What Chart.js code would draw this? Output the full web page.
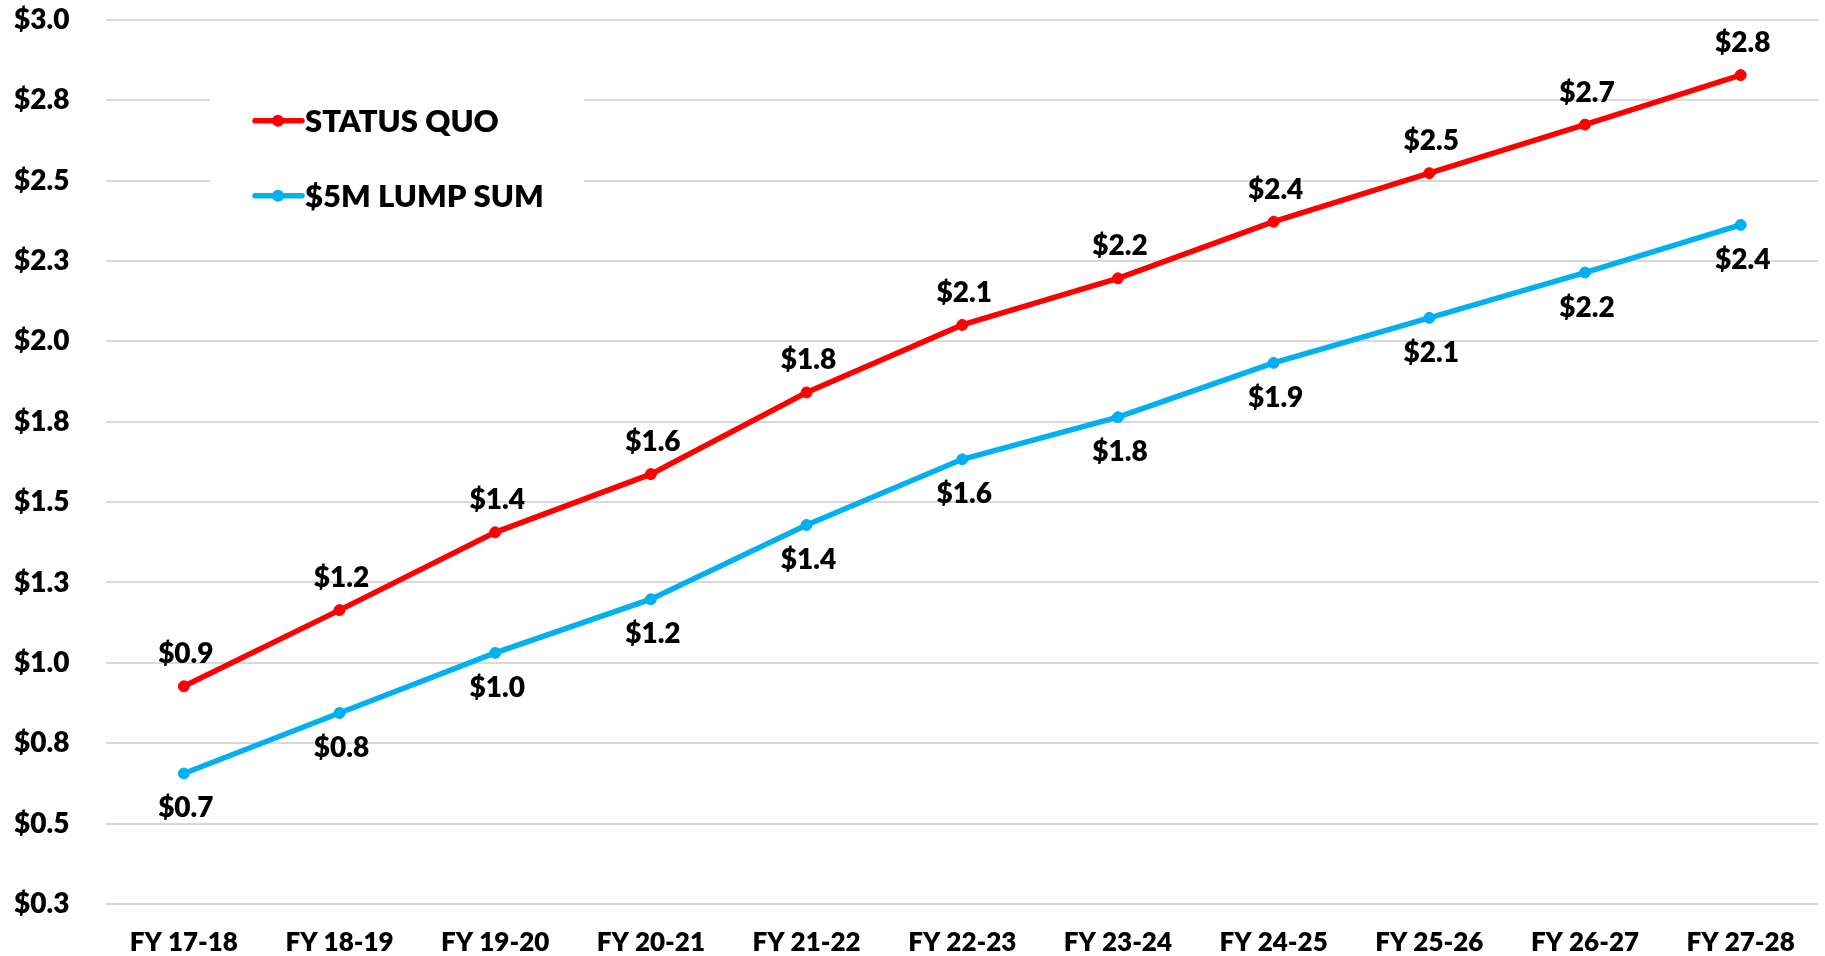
<!DOCTYPE html>
<html>
<head>
<meta charset="utf-8">
<script src="https://cdn.jsdelivr.net/npm/chart.js@4.4.1/dist/chart.umd.min.js"></script>
<style>
  html, body { margin: 0; padding: 0; background: #fff; }
  #wrap { width: 1825px; height: 956px; position: relative; }
</style>
</head>
<body>
<div id="wrap"><canvas id="lineChart"></canvas></div>
<script>
// data
var categories = ["FY 17-18", "FY 18-19", "FY 19-20", "FY 20-21", "FY 21-22", "FY 22-23",
                  "FY 23-24", "FY 24-25", "FY 25-26", "FY 26-27", "FY 27-28"];
var statusQuo = [0.927, 1.164, 1.406, 1.587, 1.841, 2.051, 2.196, 2.372, 2.523, 2.674, 2.828];
var lumpSum = [0.656, 0.844, 1.031, 1.198, 1.429, 1.633, 1.764, 1.933, 2.073, 2.214, 2.362];
var seriesNames = ["STATUS QUO", "$5M LUMP SUM"];
var yTickLabels = ["$0.3", "$0.5", "$0.8", "$1.0", "$1.3", "$1.5", "$1.8", "$2.0", "$2.3", "$2.5", "$2.8", "$3.0"];

var FONT = "Lato, 'Open Sans', sans-serif";
var WEIGHT = "800";
var RED = "#FF0000";
var BLUE = "#00B0F0";

// value labels: status quo above the point, lump sum below
var valueLabels = {
  id: "valueLabels",
  afterDatasetsDraw: function (chart) {
    var ctx = chart.ctx;
    ctx.save();
    ctx.font = WEIGHT + " 28px " + FONT;
    ctx.fillStyle = "#000";
    ctx.textAlign = "center";
    ctx.textBaseline = "middle";
    chart.data.datasets.forEach(function (ds, i) {
      var meta = chart.getDatasetMeta(i);
      var dy = i === 0 ? -32 : 35;
      meta.data.forEach(function (pt, j) {
        ctx.fillText("$" + ds.data[j].toFixed(1), pt.x + 2, pt.y + dy);
      });
    });
    ctx.restore();
  }
};

// legend drawn inside the plot on a white box
var boxLegend = {
  id: "boxLegend",
  beforeDatasetsDraw: function (chart) {
    var ctx = chart.ctx;
    var a = chart.chartArea;
    var bx = a.left + 104, by = a.top + 50;
    ctx.save();
    ctx.fillStyle = "#fff";
    ctx.fillRect(bx, by, 374, 175);
    ctx.font = WEIGHT + " 31px " + FONT;
    ctx.textBaseline = "middle";
    chart.data.datasets.forEach(function (ds, i) {
      var y = a.top + 101 + i * 75;
      var x0 = a.left + 149;
      ctx.strokeStyle = ds.borderColor;
      ctx.lineWidth = 5.5;
      ctx.lineCap = "round";
      ctx.beginPath();
      ctx.moveTo(x0, y);
      ctx.lineTo(x0 + 47, y);
      ctx.stroke();
      ctx.fillStyle = ds.borderColor;
      ctx.beginPath();
      ctx.arc(x0 + 23, y, 6, 0, Math.PI * 2);
      ctx.fill();
      ctx.fillStyle = "#000";
      ctx.fillText(ds.label, x0 + 50, y + 1);
    });
    ctx.restore();
  }
};

var ctx = document.getElementById("lineChart").getContext("2d");
var lineChart = new Chart(ctx, {
  type: "line",
  data: {
    labels: categories,
    datasets: [
      {
        label: seriesNames[0],
        data: statusQuo,
        borderColor: RED,
        backgroundColor: RED,
        pointBackgroundColor: RED,
        pointBorderColor: RED,
        borderWidth: 5.5,
        pointRadius: 5.5,
        pointBorderWidth: 1,
        tension: 0
      },
      {
        label: seriesNames[1],
        data: lumpSum,
        borderColor: BLUE,
        backgroundColor: BLUE,
        pointBackgroundColor: BLUE,
        pointBorderColor: BLUE,
        borderWidth: 5.5,
        pointRadius: 5.5,
        pointBorderWidth: 1,
        tension: 0
      }
    ]
  },
  options: {
    responsive: true,
    maintainAspectRatio: false,
    animation: false,
    layout: { padding: { left: 14, right: 4, top: 8, bottom: 0 } },
    plugins: {
      legend: { display: false },
      tooltip: { enabled: false }
    },
    scales: {
      x: {
        offset: true,
        grid: { display: false },
        border: { display: false },
        ticks: {
          color: "#000",
          font: { family: FONT, size: 26, weight: WEIGHT },
          padding: 15,
          maxRotation: 0,
          autoSkip: false
        },
        afterFit: function (scale) { scale.height = 52; }
      },
      y: {
        min: 0.25,
        max: 3.0,
        grid: { color: "#D9D9D9", lineWidth: 2, drawTicks: false },
        border: { display: false },
        ticks: {
          stepSize: 0.25,
          color: "#000",
          crossAlign: "far",
          font: { family: FONT, size: 28, weight: WEIGHT },
          callback: function (v, i) { return yTickLabels[i]; }
        },
        afterFit: function (scale) { scale.width = 92; }
      }
    }
  },
  plugins: [boxLegend, valueLabels]
});
</script>
</body>
</html>
